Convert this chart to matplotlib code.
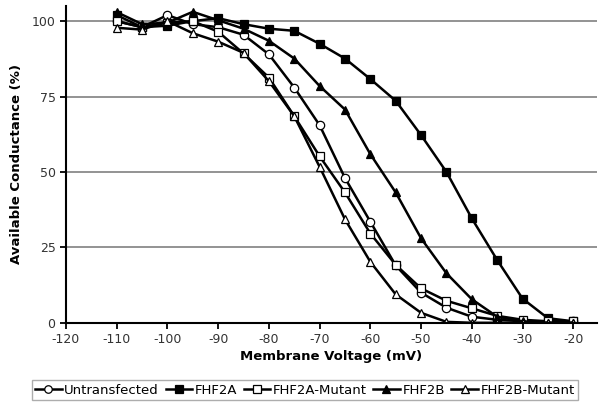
import numpy as np
import matplotlib.pyplot as plt

# Membrane voltage (mV), one reading every 5 mV
voltage = [-110, -105, -100, -95, -90, -85, -80, -75, -70, -65,
           -60, -55, -50, -45, -40, -35, -30, -25, -20]

# Available conductance (%)
untransfected = [100, 98, 102, 99, 98, 95.5, 89, 78, 65.5, 48,
                 33.5, 19, 10, 5, 2, 1, 0.5, 0.5, 0.5]
fhf2a = [102, 98, 98.5, 100, 101, 99, 97.5, 96.8, 92.5, 87.6,
         80.8, 73.6, 62.2, 50, 34.6, 20.8, 8, 1.5, 0.5]
fhf2a_mut = [100, 98, 99.5, 100, 96.5, 89.3, 81.3, 68.5, 55.2, 43.2,
             29.6, 19.2, 11.4, 7.3, 4.8, 2.3, 1, 0.5, 0.5]
fhf2b = [103, 99, 99.5, 103.1, 100.3, 97.5, 93.5, 87.6, 78.5, 70.7,
         55.9, 43.2, 28, 16.4, 7.8, 2, 0.5, 0, 0]
fhf2b_mut = [97.8, 97.2, 100, 96, 93.2, 89.5, 80.1, 68.5, 51.7, 34.3,
             20.2, 9.4, 3.3, 0.3, 0, 0, 0, 0, 0]

labels = ["Untransfected", "FHF2A", "FHF2A-Mutant", "FHF2B", "FHF2B-Mutant"]
series = [untransfected, fhf2a, fhf2a_mut, fhf2b, fhf2b_mut]
markers = ["o", "s", "s", "^", "^"]
fills = ["white", "black", "white", "black", "white"]

plt.rcParams['font.family'] = ['DejaVu Sans']
plt.rcParams['axes.unicode_minus'] = False

fig = plt.figure(figsize=(6.05, 4.05), dpi=100)
ax = fig.add_axes([0.109, 0.203, 0.878, 0.782])

for y, lab, m, fc in zip(series, labels, markers, fills):
    ax.plot(voltage, y, color="black", lw=1.8, marker=m, ms=6,
            mfc=fc, mec="black", mew=0.9, label=lab)

ax.set_xlim(-120, -15.3)
ax.set_ylim(0, 105)
ax.set_xticks(np.arange(-120, -19, 10))
ax.set_yticks([0, 25, 50, 75, 100])
ax.yaxis.grid(True, color="#808080", lw=1.2)
ax.set_axisbelow(True)
for s in ["top", "right"]:
    ax.spines[s].set_visible(False)
for s in ["left", "bottom"]:
    ax.spines[s].set_linewidth(1.5)
ax.tick_params(axis="both", labelsize=9, labelcolor="#333333", width=1.3, length=4)
ax.set_xlabel("Membrane Voltage (mV)", fontsize=9.5, fontweight="bold", labelpad=3)
ax.set_ylabel("Available Conductance (%)", fontsize=9.5, fontweight="bold", labelpad=6)

fig.legend(loc="center", bbox_to_anchor=(0.504, 0.037), ncol=5, fontsize=9.5,
           frameon=True, fancybox=False, edgecolor="#999999", handlelength=2.0,
           handletextpad=0.2, columnspacing=0.5, borderpad=0.25, markerscale=0.9)

fig.savefig("out.png", dpi=100)
